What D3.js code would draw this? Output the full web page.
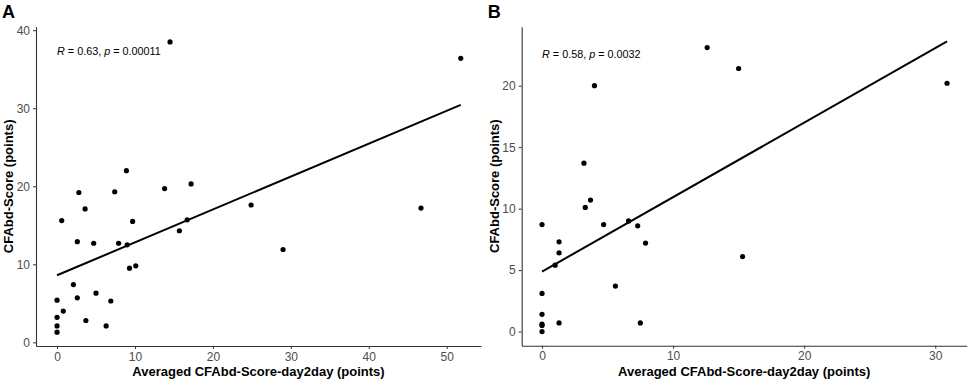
<!DOCTYPE html>
<html>
<head>
<meta charset="utf-8">
<script src="https://cdn.jsdelivr.net/npm/d3@7"></script>
<style>
  body { margin: 0; background: #fff; }
  svg { font-family: "Liberation Sans", Arial, sans-serif; }
  .tick text { fill: #4d4d4d; font-size: 12px; }
  .axis path, .axis line { stroke: #333; }
  .title { font-weight: bold; font-size: 13px; fill: #000; }
  .tag { font-weight: bold; font-size: 18px; fill: #000; }
  .stat { font-size: 10.8px; fill: #000; }
</style>
</head>
<body>
<svg id="chart" width="969" height="381"></svg>
<script>
// Panel A data: averaged day2day score vs CFAbd score
const dayA = [2.8, 7.4, 0.6, 3.6, 9.7, 13.8, 17.2, 16.7, 15.7, 2.6, 4.7, 7.9, 9.0, 9.3, 10.1,
  2.1, 0, 2.6, 5.0, 6.9, 0.8, 0, 3.7, 0, 6.3, 0, 8.9, 14.5, 51.8, 24.9, 46.7, 29.0];
const scoreA = [19.2, 19.3, 15.6, 17.1, 15.5, 19.7, 20.3, 15.7, 14.3, 12.9, 12.7, 12.7, 12.5, 9.5, 9.8,
  7.4, 5.4, 5.7, 6.3, 5.3, 4.0, 3.2, 2.8, 2.1, 2.1, 1.3, 22.0, 38.5, 36.4, 17.6, 17.2, 11.9];

// Panel B data
const dayB = [0, 1.3, 1.3, 1.0, 3.3, 3.7, 4.7, 6.6, 7.3, 7.9, 5.6, 0, 0, 0, 0, 0, 1.3, 7.5,
  4.0, 3.2, 12.6, 15.0, 30.9, 15.3];
const scoreB = [8.7, 7.3, 6.4, 5.4, 10.1, 10.7, 8.7, 9.0, 8.6, 7.2, 3.7, 3.1, 1.4, 0.6, 0.5, 0, 0.7, 0.7,
  20.0, 13.7, 23.1, 21.4, 20.2, 6.1];

const statsA = ['0.63', '0.00011'];
const statsB = ['0.58', '0.0032'];

const xTicksA = [0, 10, 20, 30, 40, 50];
const yTicksA = [0, 10, 20, 30, 40];
const xTicksB = [0, 10, 20, 30];
const yTicksB = [0, 5, 10, 15, 20];

const xTitle = 'Averaged CFAbd-Score-day2day (points)';
const yTitle = 'CFAbd-Score (points)';

const svg = d3.select('#chart');

const drawPanel = (opts) => {
  const { tag, xs, ys, stats, xTicks, yTicks, xDomain, yDomain, box, statAt } = opts;

  const x = d3.scaleLinear().domain(xDomain).range([box.left, box.right]);
  const y = d3.scaleLinear().domain(yDomain).range([box.bottom, box.top]);

  const g = svg.append('g');

  // axes
  g.append('g').attr('class', 'axis')
    .attr('transform', `translate(0,${box.bottom})`)
    .call(d3.axisBottom(x).tickValues(xTicks).tickSize(3).tickPadding(3).tickSizeOuter(0))
    .call(a => a.select('.domain').attr('stroke-width', 1.1));
  g.append('g').attr('class', 'axis')
    .attr('transform', `translate(${box.left},0)`)
    .call(d3.axisLeft(y).tickValues(yTicks).tickSize(3).tickPadding(3).tickSizeOuter(0))
    .call(a => a.select('.domain').attr('stroke-width', 1.1));
  g.selectAll('.tick text').attr('font-family', null).attr('font-size', null);

  // least squares fit, drawn over the data range
  const pts = xs.map((v, i) => [v, ys[i]]);
  const mx = d3.mean(xs), my = d3.mean(ys);
  const slope = d3.sum(pts, p => (p[0] - mx) * (p[1] - my)) / d3.sum(pts, p => (p[0] - mx) ** 2);
  const icept = my - slope * mx;
  const [x0, x1] = d3.extent(xs);
  g.append('line')
    .attr('x1', x(x0)).attr('y1', y(icept + slope * x0))
    .attr('x2', x(x1)).attr('y2', y(icept + slope * x1))
    .attr('stroke', '#000').attr('stroke-width', 2);

  g.selectAll('circle.pt').data(pts).enter().append('circle')
    .attr('class', 'pt')
    .attr('cx', d => x(d[0]))
    .attr('cy', d => y(d[1]))
    .attr('r', 2.6)
    .attr('fill', '#000');

  // correlation label
  const st = g.append('text').attr('class', 'stat')
    .attr('x', x(statAt[0])).attr('y', y(statAt[1]));
  st.append('tspan').attr('font-style', 'italic').text('R');
  st.append('tspan').text(` = ${stats[0]}, `);
  st.append('tspan').attr('font-style', 'italic').text('p');
  st.append('tspan').text(` = ${stats[1]}`);

  // titles
  g.append('text').attr('class', 'title')
    .attr('x', (box.left + box.right) / 2).attr('y', 376)
    .attr('text-anchor', 'middle').text(xTitle);
  g.append('text').attr('class', 'title')
    .attr('transform', `translate(${box.left - 23},${(box.top + box.bottom) / 2}) rotate(-90)`)
    .attr('text-anchor', 'middle').text(yTitle);

  g.append('text').attr('class', 'tag')
    .attr('x', box.left - 34).attr('y', 18).text(tag);
};

drawPanel({
  tag: 'A', xs: dayA, ys: scoreA, stats: statsA,
  xTicks: xTicksA, yTicks: yTicksA,
  xDomain: [-2.7, 54.4], yDomain: [-0.47, 40.45],
  box: { left: 36, right: 481, top: 26.7, bottom: 346 },
  statAt: [0, 36.8]
});

drawPanel({
  tag: 'B', xs: dayB, ys: scoreB, stats: statsB,
  xTicks: xTicksB, yTicks: yTicksB,
  xDomain: [-1.55, 32.4], yDomain: [-1.15, 24.8],
  box: { left: 521.7, right: 966.7, top: 26.7, bottom: 345.7 },
  statAt: [0, 22.25]
});
</script>
</body>
</html>
